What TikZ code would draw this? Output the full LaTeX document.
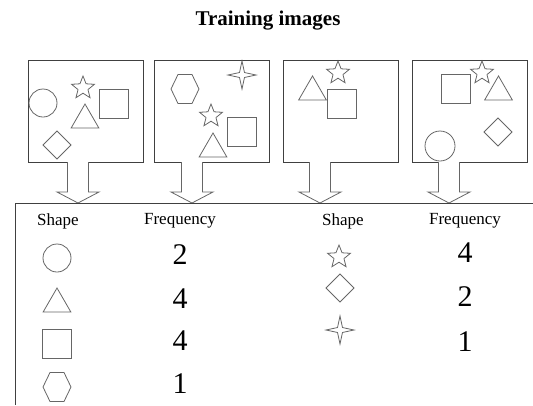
\documentclass[tikz,border=0pt]{standalone}
\usepackage{fontspec}
\setmainfont{Liberation Serif}
\usetikzlibrary{shapes.geometric}
\tikzset{
 shp/.style={draw=black!60, line width=0.8pt, inner sep=0pt, outer sep=0pt},
 circ/.style={shp, circle, minimum size=28pt},
 sq/.style={shp, rectangle, minimum size=29pt},
 tri/.style={shp, regular polygon, regular polygon sides=3, minimum size=32pt},
 dia/.style={shp, diamond, minimum size=28pt},
 fivestar/.style={shp, star, star points=5, star point ratio=2.3, minimum size=24pt},
 fourstar/.style={shp, star, star points=4, star point ratio=4, minimum size=28pt},
 hexa/.pic={\draw[shp] (-14,0) -- (-7,-14.5) -- (7,-14.5) -- (14,0) -- (7,14.5) -- (-7,14.5) -- cycle;},
 imgbox/.style={draw=black!75, line width=0.9pt, minimum width=115pt, minimum height=102pt, inner sep=0pt},
 arr/.style={draw=black!60, line width=0.8pt, fill=white},
 hdr/.style={font=\fontsize{17}{20}\selectfont},
 num/.style={font=\fontsize{30}{34}\selectfont},
}
\begin{document}
\begin{tikzpicture}[x=1pt,y=-1pt]
\useasboundingbox (0,0) rectangle (533,405);
\node (title) at (268,21) {\fontsize{21}{24}\selectfont\bfseries Training images};
% training images
\node[imgbox] (img1) at (85.5,111) {};
\node[imgbox] (img2) at (212,111) {};
\node[imgbox] (img3) at (340.5,111) {};
\node[imgbox] (img4) at (469.5,111) {};
% image 1
\node[circ] (c1) at (43,103) {};
\node[fivestar] (s1) at (83,88) {};
\node[sq] (q1) at (113.5,103.5) {};
\node[tri] (t1) at (85,120) {};
\node[dia] (d1) at (57,145) {};
% image 2
\pic at (185,89) {hexa};
\node[fourstar] (f2) at (242,75) {};
\node[fivestar] (s2) at (211,116) {};
\node[sq] (q2) at (241.5,132) {};
\node[tri] (t2) at (213,149) {};
% image 3
\node[tri] (t3) at (312.5,92) {};
\node[fivestar] (s3) at (338,73) {};
\node[sq] (q3) at (341.5,103.5) {};
% image 4
\node[sq] (q4) at (456,89) {};
\node[fivestar] (s4) at (482,73) {};
\node[tri] (t4) at (498.5,92) {};
\node[dia] (d4) at (498,132) {};
% arrows down to the table
\foreach \ax in {78,192,320,449}
  \draw[arr] (\ax-10.5,162) -- (\ax-10.5,192) -- (\ax-21,192) -- (\ax,203)
    -- (\ax+21,192) -- (\ax+10.5,192) -- (\ax+10.5,162);
\node[circ, fill=white, minimum size=30pt] (c4) at (440,146) {};
% table
\draw[black!75, line width=1pt] (15,405) -- (15,203) -- (533,203);
\node[hdr] (shapeL) at (58,221) {Shape};
\node[hdr] (freqL) at (180,221) {Frequency};
\node[hdr] (shapeR) at (343,221) {Shape};
\node[hdr] (freqR) at (465,221) {Frequency};
\node[circ] (tc) at (57,258) {};
\node[tri] (tt) at (57,304) {};
\node[sq] (tq) at (57,344) {};
\pic at (57,387) {hexa};
\node[num] (nc) at (180,255) {2};
\node[num] (nt) at (180,299) {4};
\node[num] (nq) at (180,341) {4};
\node[num] (nh) at (180,384) {1};
\node[fivestar] (ts) at (339,257) {};
\node[dia] (td) at (340,288) {};
\node[fourstar] (tf) at (340,330) {};
\node[num] (ns) at (465,253) {4};
\node[num] (nd) at (465,297) {2};
\node[num] (nf) at (465,342) {1};
\end{tikzpicture}
\end{document}
